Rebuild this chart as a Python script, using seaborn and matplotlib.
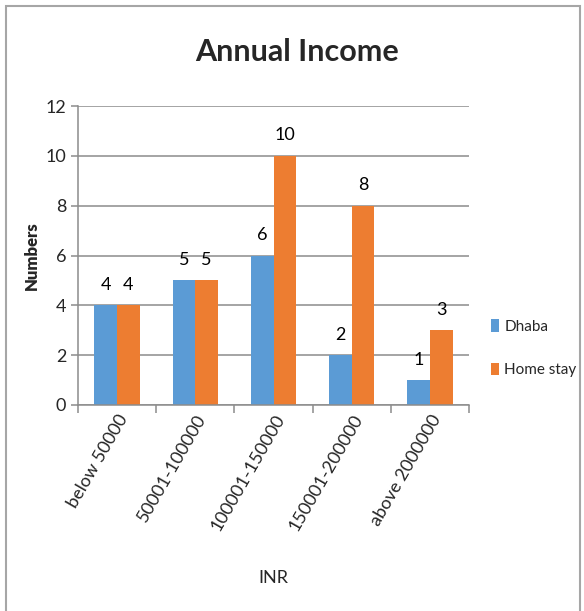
import matplotlib.pyplot as plt
import pandas as pd
import seaborn as sns
from matplotlib.patches import Rectangle

categories = ["below 50000", "50001-100000", "100001-150000", "150001-200000", "above 2000000"]
dhaba = [4, 5, 6, 2, 1]
home_stay = [4, 5, 10, 8, 3]
series_names = ["Dhaba", "Home stay"]
colors = ["#5B9BD5", "#ED7D31"]
y_ticks = [0, 2, 4, 6, 8, 10, 12]

FONT = ["Lato", "DejaVu Sans"]


def main() -> None:
    sns.set_theme(style="white")
    plt.rcParams["font.family"] = FONT

    df = pd.DataFrame({
        "Category": categories * 2,
        "Series": [series_names[0]] * len(categories) + [series_names[1]] * len(categories),
        "Value": dhaba + home_stay,
    })

    fig = plt.figure(figsize=(5.84, 6.11), dpi=100)
    ax = fig.add_axes([0.1336, 0.3372, 0.6695, 0.489])

    sns.barplot(
        data=df, x="Category", y="Value", hue="Series", order=categories,
        hue_order=series_names, palette=colors, width=0.58, gap=0,
        saturation=1, ax=ax, edgecolor="none",
    )

    for container in ax.containers:
        ax.bar_label(container, padding=9, fontsize=13, color="#000000")

    ax.set_ylim(0, 12)
    ax.set_yticks(y_ticks)
    ax.set_xlim(-0.5, len(categories) - 0.5)
    ax.yaxis.grid(True, color="#8c8c8c", linewidth=1.1)
    ax.set_axisbelow(True)
    for side in ["top", "right"]:
        ax.spines[side].set_visible(False)
    for side in ["bottom", "left"]:
        ax.spines[side].set_color("#8c8c8c")
        ax.spines[side].set_linewidth(1.1)

    # Excel-style ticks between categories
    ax.set_xticks([i - 0.5 for i in range(len(categories) + 1)], minor=True)
    ax.tick_params(axis="x", which="minor", length=6, color="#8c8c8c", width=1.1, bottom=True)
    ax.tick_params(axis="x", which="major", length=0, labelsize=13, pad=5)
    ax.tick_params(axis="y", length=5, color="#8c8c8c", width=1.1, left=True, labelsize=13)
    ax.set_xticks(range(len(categories)))
    ax.set_xticklabels(categories, rotation=60, ha="right", rotation_mode="anchor")

    fig.text(0.508, 0.915, "Annual Income", fontsize=22, fontweight="bold",
             ha="center", va="center")
    ax.set_ylabel("Numbers", fontsize=12, fontweight="heavy", labelpad=4)
    ax.set_xlabel("INR", fontsize=13, labelpad=26)

    ax.legend(
        loc="center left", bbox_to_anchor=(1.02, 0.19), frameon=False,
        fontsize=11, handlelength=0.55, handleheight=0.9, handletextpad=0.35,
        labelspacing=1.9,
    )

    fig.patches.append(Rectangle((0.011, -0.01), 0.982, 1.0, transform=fig.transFigure,
                                 fill=False, edgecolor="#a6a6a6", linewidth=1.5))

    fig.savefig("out.png", dpi=100)
    plt.close(fig)


if __name__ == "__main__":
    main()
